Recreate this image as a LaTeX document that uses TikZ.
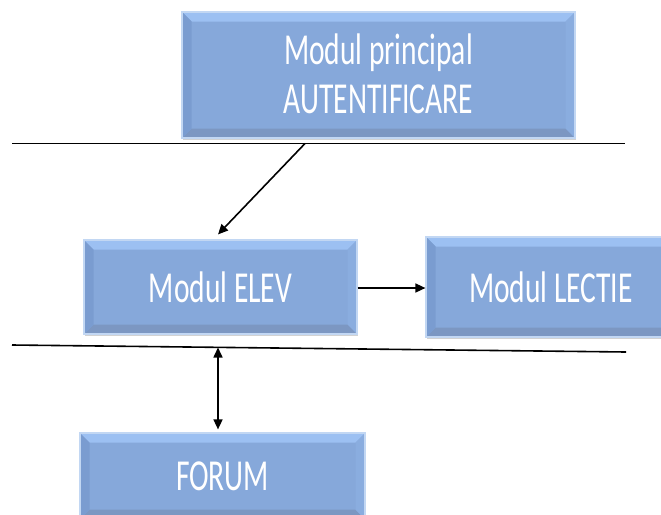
\documentclass[tikz,border=0pt]{standalone}
\usepackage{fontspec}
\setmainfont{Carlito}
\usetikzlibrary{arrows.meta,calc,shadows}

\definecolor{boxfill}{HTML}{86A8DA}
\definecolor{boxedge}{HTML}{C2D7F3}
\definecolor{bevtop}{HTML}{9CC0F2}
\definecolor{bevleft}{HTML}{7A9CD0}
\definecolor{bevright}{HTML}{8AADDF}
\definecolor{bevbot}{HTML}{7C97C2}

\newcommand\tallText[1]{\scalebox{1}[1.5]{#1}}
\newcommand\bevw{9.5pt}

\tikzset{
  modbox/.style={
    draw=boxedge, line width=1.2pt, fill=boxfill,
    text=white, inner sep=0pt,
    font=\fontsize{29.5}{33}\selectfont,
    drop shadow={shadow xshift=0.5pt, shadow yshift=-2pt, opacity=0.25, fill=black!70},
    path picture={
      \path (path picture bounding box.south west) coordinate (pSW)
            (path picture bounding box.north east) coordinate (pNE)
            (pSW |- pNE) coordinate (pNW)
            (pNE |- pSW) coordinate (pSE);
      \fill[bevtop] (pNW) -- (pNE) -- ($(pNE)+(-\bevw,-\bevw)$) -- ($(pNW)+(\bevw,-\bevw)$) -- cycle;
      \fill[bevbot] (pSW) -- (pSE) -- ($(pSE)+(-\bevw,\bevw)$) -- ($(pSW)+(\bevw,\bevw)$) -- cycle;
      \fill[bevleft] (pNW) -- (pSW) -- ($(pSW)+(\bevw,\bevw)$) -- ($(pNW)+(\bevw,-\bevw)$) -- cycle;
      \fill[bevright] (pNE) -- (pSE) -- ($(pSE)+(-\bevw,\bevw)$) -- ($(pNE)+(-\bevw,-\bevw)$) -- cycle;
    }
  },
  rule/.style={line width=1.6pt, black},
  tipstyle/.style={},
  conn/.style={line width=1.6pt, black, -{Triangle[length=10pt,width=9pt]}},
  dconn/.style={line width=1.6pt, black, {Triangle[length=10pt,width=9pt]}-{Triangle[length=10pt,width=9pt]}}
}

\begin{document}
\begin{tikzpicture}[x=1pt,y=-1pt]
  \useasboundingbox (0,0) rectangle (661,514);
  \clip (0,0) rectangle (661,514);

  % module boxes
  \node[modbox, minimum width=393, minimum height=126] (auth) at (378.5,75)
    {\raisebox{-4pt}[\height][\depth]{\tallText{\begin{tabular}{@{}c@{}}Modul principal\\AUTENTIFICARE\end{tabular}}}};
  \node[modbox, minimum width=273, minimum height=94] (elev) at (220.5,287)
    {\tallText{Modul ELEV}};
  \node[modbox, minimum width=250, minimum height=100] (lectie) at (551,287)
    {\tallText{Modul LECTIE}};
  \node[modbox, minimum width=285, minimum height=86] (forum) at (222.5,476)
    {\tallText{FORUM}};

  % separator lines
  \coordinate (l1a) at (12,143.5);
  \coordinate (l1b) at (625,143.5);
  \coordinate (l2a) at (12,345);
  \coordinate (l2b) at (626,352);
  \draw[rule] (l1a) -- (l1b);
  \draw[rule] (l2a) -- (l2b);

  % connectors
  \coordinate (a1) at (305,143.5);
  \draw[conn] (a1) -- ($(elev.north)+(-2.5,-5)$);
  \draw[conn] (elev.east |- 0,288) -- (lectie.west |- 0,288);
  \coordinate (a2) at (218,347.5);
  \draw[dconn] (a2) -- ($(a2 |- forum.north)+(0,-3)$);
\end{tikzpicture}
\end{document}
